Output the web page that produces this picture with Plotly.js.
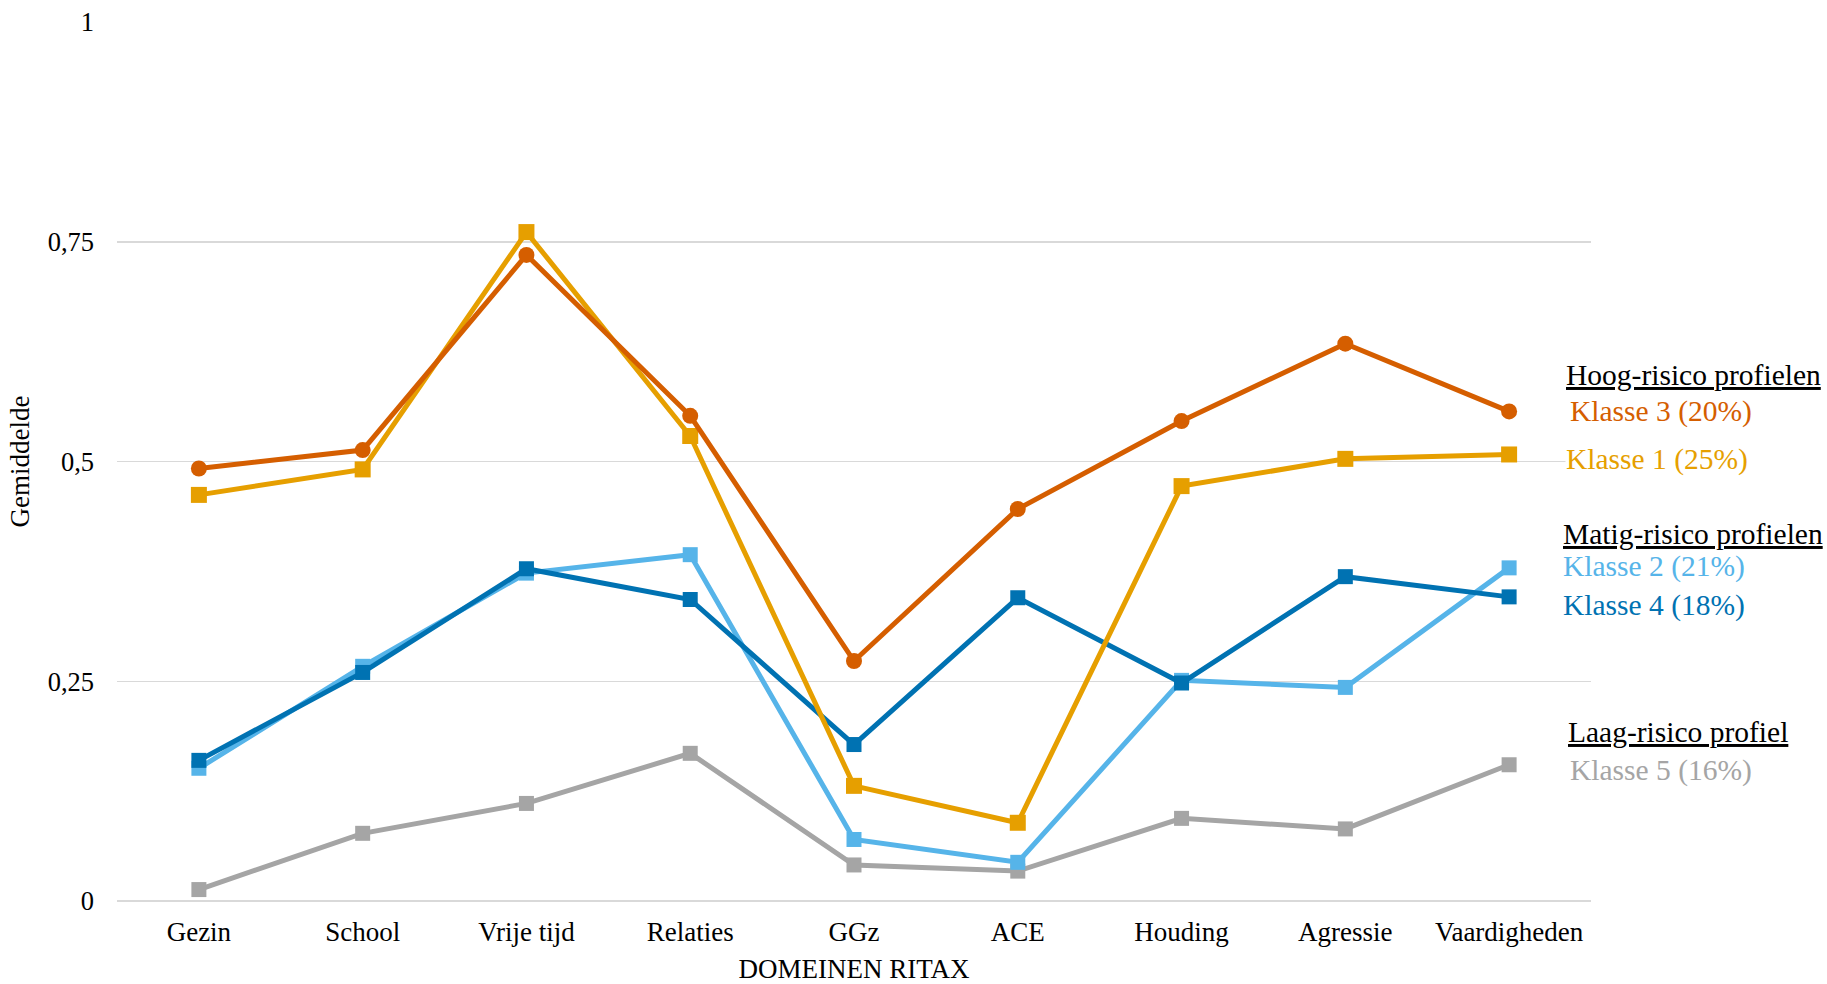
<!DOCTYPE html>
<html>
<head>
<meta charset="utf-8">
<script src="https://cdn.plot.ly/plotly-3.0.1.min.js"></script>
<style>html,body{margin:0;padding:0;background:#fff;}#chart{width:1827px;height:984px;}</style>
</head>
<body>
<div id="chart"></div>
<script>
const categories = ["Gezin","School","Vrije tijd","Relaties","GGz","ACE","Houding","Agressie","Vaardigheden"];
const klasse3 = [0.492,0.513,0.735,0.552,0.273,0.446,0.546,0.634,0.557];
const klasse1 = [0.462,0.491,0.761,0.529,0.131,0.089,0.472,0.503,0.508];
const klasse2 = [0.151,0.267,0.373,0.394,0.070,0.044,0.251,0.243,0.379];
const klasse4 = [0.160,0.260,0.378,0.343,0.178,0.345,0.248,0.369,0.346];
const klasse5 = [0.013,0.077,0.111,0.168,0.041,0.034,0.094,0.082,0.155];

const colors = {k3:"#D55E00", k1:"#E69F00", k2:"#56B4E9", k4:"#0072B2", k5:"#A5A5A5"};

function tr(y, color, symbol, size, name){
  return {x:categories, y:y, type:"scatter", mode:"lines+markers", name:name,
    line:{color:color, width:5}, marker:{color:color, symbol:symbol, size:size},
    hoverinfo:"skip", cliponaxis:false};
}
const data = [
  tr(klasse5, colors.k5, "square", 15, "Klasse 5"),
  tr(klasse2, colors.k2, "square", 15, "Klasse 2"),
  tr(klasse4, colors.k4, "square", 15, "Klasse 4"),
  tr(klasse1, colors.k1, "square", 16, "Klasse 1"),
  tr(klasse3, colors.k3, "circle", 16, "Klasse 3")
];

const L = 116.5, R = 1591, T = 22, B = 901;
const px = v => (v - L) / (R - L);
const py = v => (B - v) / (B - T);
const serif = "Liberation Serif, Times New Roman, serif";
function ann(text, x, y, color, bg){
  return {text:text, x:px(x), y:py(y), xref:"paper", yref:"paper", xanchor:"left", yanchor:"middle",
    showarrow:false, font:{family:serif, size:29.5, color:color}, bgcolor:bg||"rgba(0,0,0,0)", borderpad:0};
}
const layout = {
  width:1827, height:984,
  margin:{l:L, r:1827-R, t:T, b:984-B, pad:0},
  paper_bgcolor:"#fff", plot_bgcolor:"#fff",
  separators:",.",
  showlegend:false,
  font:{family:serif, color:"#000"},
  xaxis:{type:"category", range:[-0.5,8.5], showgrid:false, showline:false, zeroline:false, ticks:"",
    tickfont:{family:serif, size:27, color:"#000"}, ticklabelstandoff:12,
    title:{text:"DOMEINEN RITAX", font:{family:serif, size:27, color:"#000"}, standoff:14}},
  yaxis:{range:[0,1], dtick:0.25, tick0:0, showgrid:true, gridcolor:"#D9D9D9", gridwidth:1.5,
    zeroline:true, zerolinecolor:"#D9D9D9", zerolinewidth:1.5, showline:false, ticks:"",
    tickfont:{family:serif, size:26.5, color:"#000"}, ticklabelstandoff:22,
    title:{text:"Gemiddelde", font:{family:serif, size:27, color:"#000"}, standoff:10}},
  annotations:[
    ann("<u>Hoog-risico profielen</u>", 1565, 375, "#000"),
    ann("Klasse 3 (20%)", 1569, 411, colors.k3),
    ann("Klasse 1 (25%)", 1565, 459, colors.k1, "#fff"),
    ann("<u>Matig-risico profielen</u>", 1562, 534, "#000"),
    ann("Klasse 2 (21%)", 1562, 566, colors.k2),
    ann("Klasse 4 (18%)", 1562, 605, colors.k4),
    ann("<u>Laag-risico profiel</u>", 1567, 732, "#000"),
    ann("Klasse 5 (16%)", 1569, 770, colors.k5)
  ]
};
Plotly.newPlot("chart", data, layout, {displayModeBar:false, staticPlot:true});
</script>
</body>
</html>
